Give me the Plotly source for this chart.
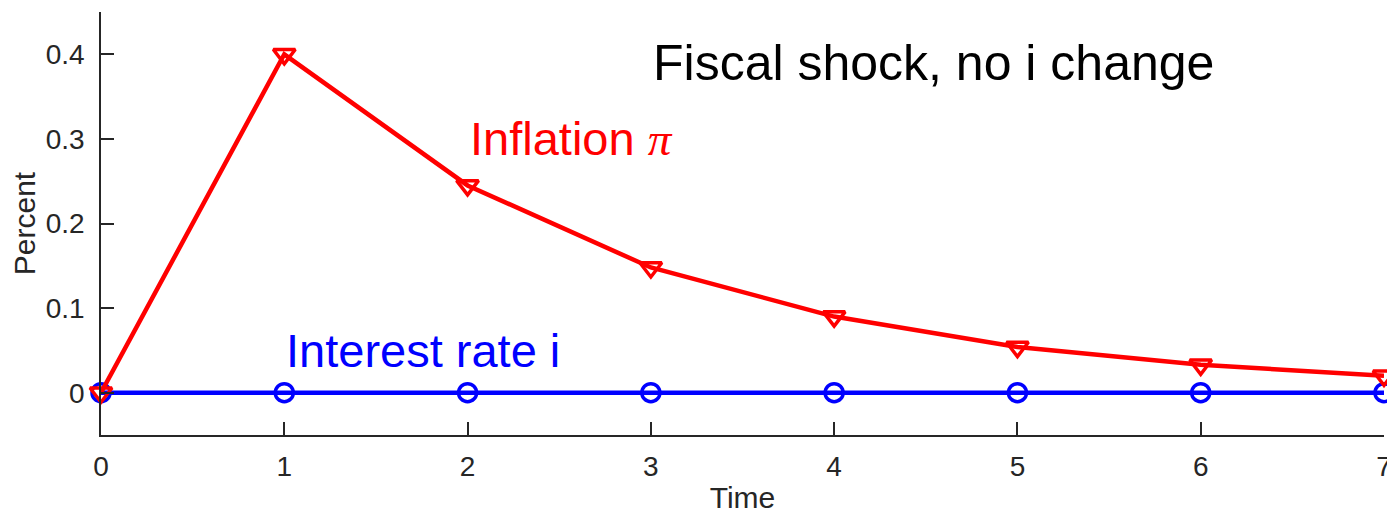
import plotly.graph_objects as go

time = [0, 1, 2, 3, 4, 5, 6, 7]
inflation = [0.0, 0.40, 0.245, 0.148, 0.090, 0.054, 0.033, 0.020]
interest = [0, 0, 0, 0, 0, 0, 0, 0]

y_ticks = [0, 0.1, 0.2, 0.3, 0.4]
y_ticklabels = ["0", "0.1", "0.2", "0.3", "0.4"]
x_ticks = [0, 1, 2, 3, 4, 5, 6, 7]

FONT = "Liberation Sans, Arial, Helvetica, sans-serif"
AX = "#262626"

fig = go.Figure()
fig.add_trace(go.Scatter(
    x=time, y=interest, mode="lines+markers",
    line=dict(color="#0000FF", width=4.5),
    marker=dict(symbol="circle-open", size=18, line=dict(color="#0000FF", width=3.5)),
    cliponaxis=False, showlegend=False))
fig.add_trace(go.Scatter(
    x=time, y=inflation, mode="lines+markers",
    line=dict(color="#FF0000", width=4.5),
    marker=dict(symbol="triangle-down-open", size=19, line=dict(color="#FF0000", width=3.5)),
    cliponaxis=False, showlegend=False))

fig.add_annotation(x=3, y=0.39, text="Fiscal shock, no i change", showarrow=False,
                   xanchor="left", yanchor="middle",
                   font=dict(family=FONT, size=50, color="#000000"))
fig.add_annotation(x=2, y=0.30,
                   text="Inflation <span style=\"font-family:'Liberation Serif', 'Times New Roman', serif\"><i>π</i></span>",
                   showarrow=False, xanchor="left", yanchor="middle",
                   font=dict(family=FONT, size=47, color="#FF0000"))
fig.add_annotation(x=1, y=0.05, text="Interest rate i", showarrow=False,
                   xanchor="left", yanchor="middle",
                   font=dict(family=FONT, size=47, color="#0000FF"))

# the page body adds an 8px margin; size the figure so the axes land where the reference has them
fig.update_layout(
    width=1387, height=506,
    margin=dict(l=93, r=11, t=4, b=79),
    paper_bgcolor="white", plot_bgcolor="white",
    font=dict(family=FONT, color=AX),
)
fig.update_xaxes(
    range=[0, 7], tickvals=x_ticks, ticks="inside", ticklen=13, tickwidth=1.5, tickcolor=AX,
    showline=True, linecolor=AX, linewidth=1.5, showgrid=False, zeroline=False,
    tickfont=dict(size=28, color=AX), ticklabelstandoff=6, automargin=False,
    title=dict(text="Time", font=dict(size=30, color=AX), standoff=18),
)
fig.update_yaxes(
    range=[-0.05, 0.45], tickvals=y_ticks, ticktext=y_ticklabels, ticks="inside", ticklen=13,
    tickwidth=1.5, tickcolor=AX,
    showline=True, linecolor=AX, linewidth=1.5, showgrid=False, zeroline=False,
    tickfont=dict(size=28, color=AX), ticklabelstandoff=9, automargin=False,
    title=dict(text="Percent", font=dict(size=30, color=AX), standoff=8),
)

fig.write_html("out.html")
